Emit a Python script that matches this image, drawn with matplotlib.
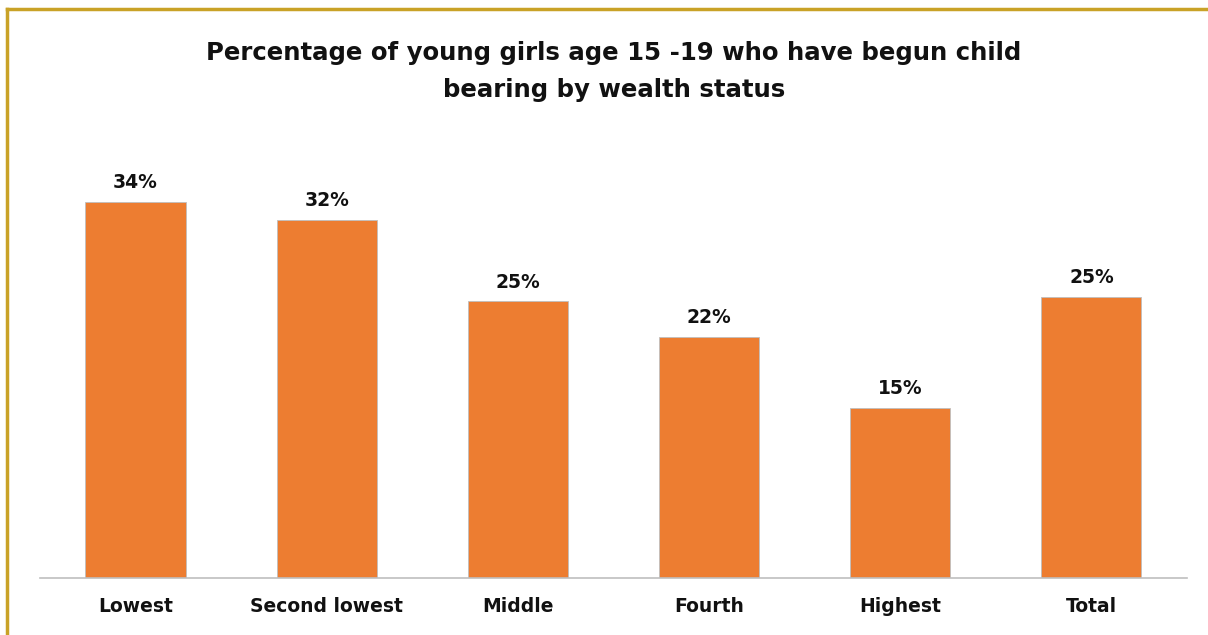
import matplotlib.pyplot as plt
from matplotlib.lines import Line2D

categories = ["Lowest", "Second lowest", "Middle", "Fourth", "Highest", "Total"]
values = [34.0, 32.4, 25.0, 21.8, 15.4, 25.4]
labels = ["34%", "32%", "25%", "22%", "15%", "25%"]

plt.rcParams["font.family"] = ["DejaVu Sans"]

fig = plt.figure(figsize=(12.08, 6.35), dpi=100)
ax = fig.add_axes([0.0331, 0.0898, 0.9495, 0.6967])

bars = ax.bar(range(len(categories)), values, width=0.524, color="#ED7D31",
              edgecolor="#BFBFBF", linewidth=0.6, zorder=2)
for b, lab in zip(bars, labels):
    ax.annotate(lab, (b.get_x() + b.get_width() / 2, b.get_height()),
                xytext=(0, 7), textcoords="offset points", ha="center",
                va="bottom", fontsize=13.5, fontweight="bold", color="#111111")

ax.set_xlim(-0.5, len(categories) - 0.5)
ax.set_ylim(0, 40)
ax.set_xticks(range(len(categories)))
ax.set_xticklabels(categories, fontsize=13.5, fontweight="bold", color="#111111")
ax.tick_params(axis="x", length=0, pad=14)
ax.set_yticks([])
for s in ["top", "right", "left"]:
    ax.spines[s].set_visible(False)
ax.spines["bottom"].set_color("#BFBFBF")
ax.spines["bottom"].set_linewidth(1.2)

fig.text(0.508, 0.935, "Percentage of young girls age 15 -19 who have begun child\nbearing by wealth status",
         ha="center", va="top", fontsize=17.6, fontweight="bold", color="#111111",
         linespacing=1.65)

# gold frame (top and left edges)
fig.add_artist(Line2D([0.0058, 1.0], [0.9858, 0.9858], transform=fig.transFigure,
                      color="#C9A227", linewidth=2.5))
fig.add_artist(Line2D([0.0058, 0.0058], [0.0, 0.9858], transform=fig.transFigure,
                      color="#C9A227", linewidth=2.5))

fig.savefig("out.png", dpi=100)
